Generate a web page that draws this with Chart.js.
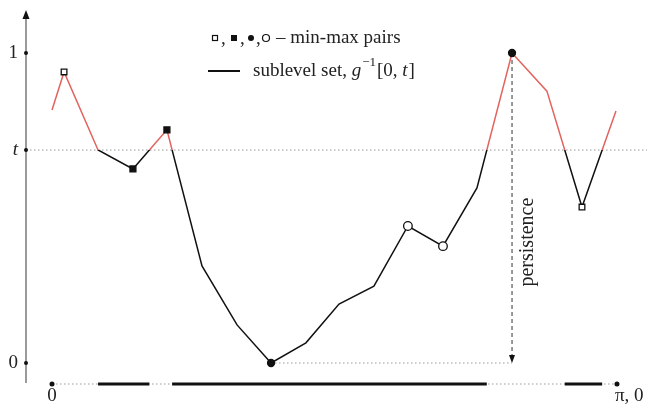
<!DOCTYPE html>
<html lang="en">
<head>
    <meta charset="UTF-8">
    <title>Sublevel set persistence</title>
    <script src="https://cdn.jsdelivr.net/npm/chart.js"></script>
    <style>
        html, body { margin: 0; padding: 0; background: #fff; }
        #wrap { width: 647px; height: 410px; }
    </style>
</head>
<body>
    <div id="wrap"><canvas id="chartCanvas"></canvas></div>

    <script>
        // samples of g on [0, pi]
        const xs = [0, 0.067, 0.256, 0.450, 0.639, 0.834, 1.029, 1.218, 1.412, 1.596,
                    1.790, 1.979, 2.174, 2.363, 2.558, 2.752, 2.947, 3.136];
        const ys = [0.816, 0.939, 0.687, 0.626, 0.752, 0.313, 0.123, 0.000, 0.065, 0.190,
                    0.248, 0.442, 0.377, 0.565, 1.000, 0.877, 0.503, 0.813];
        // min-max pair markers per sample
        const marks = ['', 'sq', '', 'fsq', 'fsq', '', '', 'fc', '', '', '', 'c', 'c', '', 'fc', '', 'sq', ''];
        const tLevel = 0.687;
        const yTicks = [0, tLevel, 1];
        const yTickLabels = ['0', 't', '1'];
        const xTickLabels = ['0', 'π, 0'];

        const RED = '#e2635e';
        const serif = '"Liberation Serif", "DejaVu Serif", serif';

        const points = xs.map((x, i) => ({ x: x, y: ys[i] }));

        // parts of [0, pi] where g <= t
        function sublevelIntervals() {
            const out = [];
            let start = null;
            for (let i = 0; i < xs.length - 1; i++) {
                const a = ys[i], b = ys[i + 1];
                const inA = a <= tLevel, inB = b <= tLevel;
                if (inA && start === null) start = xs[i];
                if (inA !== inB) {
                    const xc = xs[i] + (tLevel - a) / (b - a) * (xs[i + 1] - xs[i]);
                    if (inA) { out.push([start, xc]); start = null; }
                    else start = xc;
                }
            }
            if (start !== null) out.push([start, xs[xs.length - 1]]);
            return out;
        }

        function lineColor(context) {
            const chart = context.chart;
            const area = chart.chartArea;
            if (!area) return '#000';
            const yT = chart.scales.y.getPixelForValue(tLevel);
            const f = Math.min(1, Math.max(0, (yT - area.top) / (area.bottom - area.top)));
            const g = chart.ctx.createLinearGradient(0, area.top, 0, area.bottom);
            g.addColorStop(0, RED);
            g.addColorStop(f, RED);
            g.addColorStop(f, '#111');
            g.addColorStop(1, '#111');
            return g;
        }

        const decorations = {
            id: 'decorations',
            beforeDatasetsDraw(chart) {
                const c = chart.ctx;
                const sx = chart.scales.x, sy = chart.scales.y;
                const area = chart.chartArea;
                const ax = area.left;
                c.save();

                // dotted level t
                c.strokeStyle = '#9a9a9a';
                c.lineWidth = 1;
                c.setLineDash([1.5, 2.5]);
                c.beginPath();
                c.moveTo(ax, sy.getPixelForValue(tLevel));
                c.lineTo(chart.width, sy.getPixelForValue(tLevel));
                c.stroke();

                // persistence: from global min to global max
                const iMin = ys.indexOf(Math.min(...ys));
                const iMax = ys.indexOf(Math.max(...ys));
                const pxMax = sx.getPixelForValue(xs[iMax]);
                const py0 = sy.getPixelForValue(ys[iMin]);
                c.beginPath();
                c.moveTo(sx.getPixelForValue(xs[iMin]), py0);
                c.lineTo(pxMax, py0);
                c.stroke();

                c.strokeStyle = '#555';
                c.lineWidth = 1.2;
                c.setLineDash([4, 3]);
                c.beginPath();
                c.moveTo(pxMax, sy.getPixelForValue(ys[iMax]));
                c.lineTo(pxMax, py0 - 6);
                c.stroke();
                c.setLineDash([]);
                c.fillStyle = '#111';
                c.beginPath();
                c.moveTo(pxMax - 3, py0 - 8);
                c.lineTo(pxMax + 3, py0 - 8);
                c.lineTo(pxMax, py0);
                c.closePath();
                c.fill();

                c.save();
                c.translate(pxMax + 16, sy.getPixelForValue(0.39));
                c.rotate(-Math.PI / 2);
                c.fillStyle = '#222';
                c.font = '20px ' + serif;
                c.textAlign = 'center';
                c.textBaseline = 'middle';
                c.fillText('persistence', 0, 0);
                c.restore();

                // y axis with arrow
                c.strokeStyle = '#808080';
                c.lineWidth = 1.6;
                c.beginPath();
                c.moveTo(ax, area.bottom - 1);
                c.lineTo(ax, area.top + 6);
                c.stroke();
                c.fillStyle = '#111';
                c.beginPath();
                c.moveTo(ax - 3.5, area.top + 9);
                c.lineTo(ax + 3.5, area.top + 9);
                c.lineTo(ax, area.top);
                c.closePath();
                c.fill();

                c.textAlign = 'right';
                c.textBaseline = 'middle';
                yTicks.forEach((v, i) => {
                    const py = sy.getPixelForValue(v);
                    c.fillStyle = '#111';
                    c.beginPath();
                    c.arc(ax, py, 2, 0, Math.PI * 2);
                    c.fill();
                    c.fillStyle = '#222';
                    c.font = (yTickLabels[i] === 't' ? 'italic ' : '') + '19px ' + serif;
                    c.fillText(yTickLabels[i], ax - 8, py);
                });

                // domain line with sublevel set barcode
                const by = area.bottom;
                const x0 = sx.getPixelForValue(0), x1 = sx.getPixelForValue(Math.PI);
                c.strokeStyle = '#9a9a9a';
                c.lineWidth = 1;
                c.setLineDash([1.5, 2.5]);
                c.beginPath();
                c.moveTo(x0, by);
                c.lineTo(x1, by);
                c.stroke();
                c.setLineDash([]);
                c.strokeStyle = '#111';
                c.lineWidth = 3;
                sublevelIntervals().forEach(([a, b]) => {
                    c.beginPath();
                    c.moveTo(sx.getPixelForValue(a), by);
                    c.lineTo(sx.getPixelForValue(b), by);
                    c.stroke();
                });
                c.fillStyle = '#111';
                [x0, x1].forEach(px => {
                    c.beginPath();
                    c.arc(px, by, 2.5, 0, Math.PI * 2);
                    c.fill();
                });
                c.fillStyle = '#222';
                c.font = '19px ' + serif;
                c.textAlign = 'center';
                c.textBaseline = 'top';
                c.fillText(xTickLabels[0], x0, by + 3);
                c.textAlign = 'left';
                c.fillText(xTickLabels[1], x1 - 2, by + 3);

                // legend
                const ly1 = 38, ly2 = 71;
                c.strokeStyle = '#111';
                c.fillStyle = '#111';
                c.lineWidth = 1.2;
                c.strokeRect(212.5, ly1 - 2.5, 5, 5);
                c.fillRect(231, ly1 - 3, 6, 6);
                c.beginPath(); c.arc(251, ly1, 3, 0, Math.PI * 2); c.fill();
                c.beginPath(); c.arc(266, ly1, 3.5, 0, Math.PI * 2); c.stroke();
                c.font = '19px ' + serif;
                c.textAlign = 'left';
                c.textBaseline = 'middle';
                c.fillStyle = '#222';
                c.fillText(',', 221, ly1 + 1);
                c.fillText(',', 240, ly1 + 1);
                c.fillText(',', 256, ly1 + 1);
                c.fillText('– min-max pairs', 276, ly1);

                c.lineWidth = 2;
                c.beginPath();
                c.moveTo(208, ly2);
                c.lineTo(240, ly2);
                c.stroke();
                c.fillText('sublevel set, ', 253, ly2);
                let tx = 253 + c.measureText('sublevel set, ').width;
                c.font = 'italic 19px ' + serif;
                c.fillText('g', tx, ly2);
                tx += c.measureText('g').width + 1;
                c.font = '13px ' + serif;
                c.fillText('−1', tx, ly2 - 8);
                tx += c.measureText('−1').width + 1;
                c.font = '19px ' + serif;
                c.fillText('[0, ', tx, ly2);
                tx += c.measureText('[0, ').width;
                c.font = 'italic 19px ' + serif;
                c.fillText('t', tx, ly2);
                tx += c.measureText('t').width + 1;
                c.font = '19px ' + serif;
                c.fillText(']', tx, ly2);

                c.restore();
            }
        };

        const styleOf = {
            sq: { style: 'rect', r: 4, fill: '#fff' },
            fsq: { style: 'rect', r: 4.2, fill: '#111' },
            fc: { style: 'circle', r: 3.5, fill: '#111' },
            c: { style: 'circle', r: 4.3, fill: '#fff' }
        };

        const chart = new Chart(document.getElementById('chartCanvas'), {
            type: 'scatter',
            data: {
                datasets: [{
                    label: 'g',
                    data: points,
                    showLine: true,
                    borderColor: lineColor,
                    borderWidth: 1.5,
                    tension: 0,
                    pointStyle: ctx => (styleOf[marks[ctx.dataIndex]] || {}).style || 'circle',
                    pointRadius: ctx => (styleOf[marks[ctx.dataIndex]] || { r: 0 }).r,
                    pointBackgroundColor: ctx => (styleOf[marks[ctx.dataIndex]] || { fill: '#fff' }).fill,
                    pointBorderColor: '#111',
                    pointBorderWidth: 1.3,
                    pointHoverRadius: 0
                }]
            },
            options: {
                responsive: true,
                maintainAspectRatio: false,
                animation: false,
                layout: { padding: { left: 26, right: 7, top: 10, bottom: 26 } },
                plugins: {
                    legend: { display: false },
                    tooltip: { enabled: false }
                },
                scales: {
                    x: { type: 'linear', display: false, min: -0.1446, max: 3.2696 },
                    y: { type: 'linear', display: false, min: -0.0677, max: 1.1387 }
                }
            },
            plugins: [decorations]
        });
    </script>
</body>
</html>
